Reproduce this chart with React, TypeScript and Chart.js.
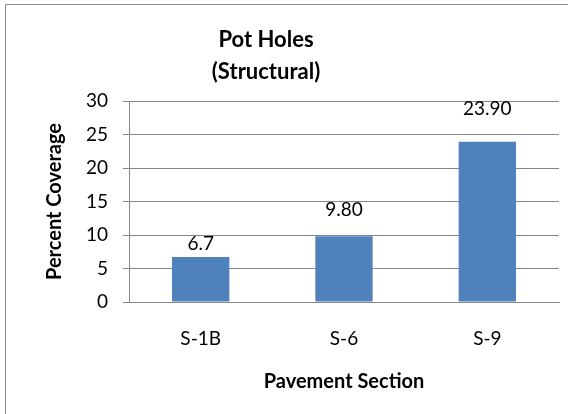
import React, { useEffect, useRef } from "react";
import { Chart, registerables } from "chart.js";

Chart.register(...registerables);

const categories = ["S-1B", "S-6", "S-9"];
const coverage = [6.7, 9.8, 23.9];
const valueLabels = ["6.7", "9.80", "23.90"];
const labelLift = [7, 20, 27];
const titleLines = ["Pot Holes", "(Structural)"];
const yTitle = "Percent Coverage";
const xTitle = "Pavement Section";

const FONT = "Lato, 'Open Sans', sans-serif";
const GRID = "#878787";

const frame = {
  id: "frame",
  beforeDraw(chart: any) {
    const ctx = chart.ctx;
    ctx.save();
    ctx.strokeStyle = "#8a8a8a";
    ctx.lineWidth = 1;
    ctx.beginPath();
    ctx.moveTo(5.5, chart.height);
    ctx.lineTo(5.5, 4.5);
    ctx.lineTo(chart.width, 4.5);
    ctx.stroke();
    ctx.restore();
  },
};

const valueText = {
  id: "valueText",
  afterDatasetsDraw(chart: any) {
    const ctx = chart.ctx;
    const meta = chart.getDatasetMeta(0);
    ctx.save();
    ctx.font = `19px ${FONT}`;
    ctx.fillStyle = "#000";
    ctx.textAlign = "center";
    ctx.textBaseline = "alphabetic";
    meta.data.forEach((bar: any, i: number) => {
      ctx.fillText(valueLabels[i], bar.x, bar.y - labelLift[i]);
    });
    ctx.restore();
  },
};

export default function App() {
  const ref = useRef<HTMLCanvasElement>(null);
  useEffect(() => {
    const chart = new Chart(ref.current!, {
      type: "bar",
      data: {
        labels: categories,
        datasets: [
          {
            data: coverage,
            backgroundColor: "#4F81BD",
            borderWidth: 0,
            categoryPercentage: 1,
            barPercentage: 0.4,
          },
        ],
      },
      options: {
        animation: false,
        responsive: true,
        maintainAspectRatio: false,
        layout: { padding: { left: -27, right: 9, top: 0, bottom: 0 } },
        plugins: {
          legend: { display: false },
          tooltip: { enabled: false },
          title: {
            display: true,
            text: titleLines,
            color: "#000",
            font: { family: FONT, size: 22, weight: "bold", lineHeight: "32px" },
            padding: { top: 24, bottom: 13 },
          },
        },
        scales: {
          x: {
            grid: { display: false, drawTicks: false },
            border: { display: true, color: GRID, width: 1 },
            ticks: { color: "#000", padding: 25, font: { family: FONT, size: 19 } },
            title: {
              display: true,
              text: xTitle,
              color: "#000",
              font: { family: FONT, size: 20, weight: "bold" },
              padding: { top: 0, bottom: 20 },
            },
            afterFit(scale: any) {
              scale.height = 112;
            },
          },
          y: {
            min: 0,
            max: 30,
            ticks: { stepSize: 5, color: "#000", padding: 15, font: { family: FONT, size: 19 } },
            grid: { color: GRID, lineWidth: 1, tickLength: 6, drawTicks: true },
            border: { display: true, color: GRID, width: 1 },
            title: {
              display: true,
              text: yTitle,
              color: "#000",
              font: { family: FONT, size: 20, weight: "bold" },
              padding: { top: 70, bottom: 0 },
            },
            afterFit(scale: any) {
              scale.width = 156;
            },
          },
        },
      },
      plugins: [frame, valueText],
    });
    return () => chart.destroy();
  }, []);
  return (
    <div style={{ position: "absolute", left: 0, top: 0, width: 568, height: 414 }}>
      <canvas ref={ref} />
    </div>
  );
}
